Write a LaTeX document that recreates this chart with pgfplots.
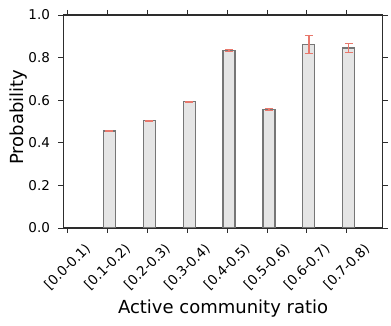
\documentclass[border=0pt]{standalone}
\usepackage{fontspec}
\setmainfont{DejaVu Sans}
\usepackage{pgfplots}
\pgfplotsset{compat=1.18}
\definecolor{barfill}{RGB}{229,229,229}
\definecolor{baredge}{RGB}{118,118,118}
\definecolor{errc}{RGB}{232,120,108}
\definecolor{axc}{RGB}{45,45,45}

\begin{document}
\begin{tikzpicture}
\useasboundingbox (0,0) rectangle (391pt,326pt);
\begin{axis}[
  at={(63.5pt,98pt)}, anchor=south west,
  scale only axis, width=319.2pt, height=213pt,
  xmin=-0.1, xmax=7.9, ymin=0, ymax=1,
  xtick={0,...,7},
  xticklabels={[0.0-0.1),[0.1-0.2),[0.2-0.3),[0.3-0.4),[0.4-0.5),[0.5-0.6),[0.6-0.7),[0.7-0.8)},
  ytick={0,0.2,...,1.0},
  xticklabel style={font=\fontsize{13.5}{15}\selectfont, yshift=-34pt, rotate=45, anchor=center},
  yticklabel style={font=\fontsize{13.5}{15}\selectfont, xshift=-5pt, /pgf/number format/.cd, fixed, fixed zerofill, precision=1, assume math mode=true},
  tick align=outside, major tick length=5pt,
  every tick/.style={axc, line width=0.8pt},
  axis line style={axc, line width=1.2pt},
  xlabel={Active community ratio},
  ylabel={Probability},
  label style={font=\fontsize{18}{21}\selectfont},
  xlabel style={at={(axis description cs:0.5,-0.380)}, anchor=center},
  ylabel style={at={(axis description cs:-0.141,0.521)}, anchor=center},
  ybar, bar width=0.3, bar shift=0.05,
]
\addplot[fill=barfill, draw=baredge, line width=1.2pt,
  error bars/.cd, y dir=both, y explicit,
  error bar style={errc, line width=1.3pt},
  error mark options={errc, rotate=90, mark size=4pt, line width=1.3pt}]
  coordinates {
  (1,0.455) +- (0,0.002)
  (2,0.504) +- (0,0.002)
  (3,0.593) +- (0,0.002)
  (4,0.833) +- (0,0.005)
  (5,0.556) +- (0,0.004)
  (6,0.862) +- (0,0.043)
  (7,0.845) +- (0,0.020)
};
\end{axis}
\end{tikzpicture}
\end{document}
